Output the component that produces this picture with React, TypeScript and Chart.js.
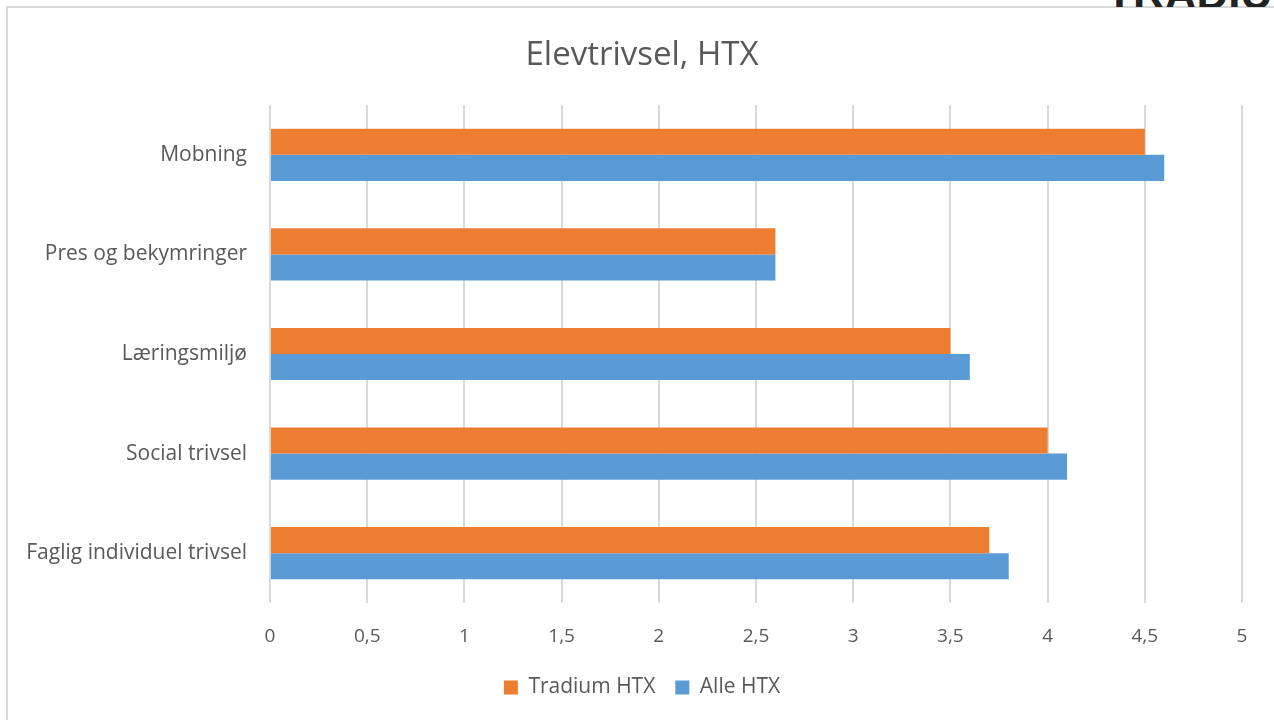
import React, { useEffect, useRef } from "react";
import { Chart, registerables } from "chart.js";

Chart.register(...registerables);

const categories = [
  "Mobning",
  "Pres og bekymringer",
  "Læringsmiljø",
  "Social trivsel",
  "Faglig individuel trivsel",
];
const tradiumHTX = [4.5, 2.6, 3.5, 4.0, 3.7];
const alleHTX = [4.6, 2.6, 3.6, 4.1, 3.8];
const seriesNames = ["Tradium HTX", "Alle HTX"];
const chartTitle = "Elevtrivsel, HTX";

const FONT = "'Open Sans', sans-serif";
const TEXT = "#595959";

// Widen the y-axis label clip area to the canvas edge so long labels are not cut
const unclipYLabels = {
  id: "unclipYLabels",
  afterLayout(chart: any) {
    const y = chart.scales.y;
    if (y) {
      y.width = y.right;
      y.left = 0;
    }
  },
};

export default function App() {
  const ref = useRef<HTMLCanvasElement | null>(null);

  useEffect(() => {
    if (!ref.current) return;
    const chart = new Chart(ref.current, {
      type: "bar",
      data: {
        labels: categories,
        datasets: [
          {
            label: seriesNames[0],
            data: tradiumHTX,
            backgroundColor: "#ED7D31",
            categoryPercentage: 0.5236,
            barPercentage: 1,
          },
          {
            label: seriesNames[1],
            data: alleHTX,
            backgroundColor: "#5B9BD5",
            categoryPercentage: 0.5236,
            barPercentage: 1,
          },
        ],
      },
      plugins: [unclipYLabels],
      options: {
        indexAxis: "y",
        animation: false,
        responsive: false,
        maintainAspectRatio: false,
        layout: { padding: { left: 42, right: 32, top: 0, bottom: 12 } },
        scales: {
          x: {
            min: 0,
            max: 5,
            ticks: {
              stepSize: 0.5,
              color: TEXT,
              font: { family: FONT, size: 19 },
              padding: 22,
              callback: (v: any) => String(v).replace(".", ","),
            },
            grid: { color: "#d9d9d9", lineWidth: 2, drawTicks: false },
            border: { display: false },
            afterFit: (s: any) => {
              s.height = 54;
            },
          },
          y: {
            ticks: {
              color: TEXT,
              font: { family: FONT, size: 21 },
              padding: 23,
            },
            grid: { display: false, drawTicks: false },
            border: { display: false },
            afterFit: (s: any) => {
              s.width = 228;
            },
          },
        },
        plugins: {
          title: {
            display: true,
            text: chartTitle,
            color: TEXT,
            font: { family: FONT, size: 33, weight: "normal" },
            padding: { top: 36, bottom: 29.4 },
          },
          legend: {
            position: "bottom",
            labels: {
              color: TEXT,
              font: { family: FONT, size: 21 },
              boxWidth: 14,
              boxHeight: 14,
              padding: 20,
            },
          },
          tooltip: { enabled: false },
        },
      },
    });
    return () => chart.destroy();
  }, []);

  return (
    <div style={{ position: "absolute", left: 0, top: 0, width: 1274, height: 720, background: "#fff", overflow: "hidden" }}>
      <div
        style={{
          position: "absolute",
          left: 6,
          top: 6,
          width: 1300,
          height: 800,
          borderLeft: "2px solid #d9d9d9",
          borderTop: "2px solid #d9d9d9",
        }}
      />
      <div
        style={{
          position: "absolute",
          left: 1100,
          top: 0,
          width: 174,
          height: 7,
          overflow: "hidden",
        }}
      >
        <div
          style={{
            position: "absolute",
            left: 6,
            bottom: 0,
            fontFamily: "'Liberation Sans', sans-serif",
            fontWeight: "bold",
            fontSize: 44,
            lineHeight: "44px",
            color: "#222",
            whiteSpace: "nowrap",
            transform: "translateY(9px)",
          }}
        >
          TRADIUM
        </div>
      </div>
      <canvas ref={ref} width={1274} height={720} style={{ position: "absolute", left: 0, top: 0 }} />
    </div>
  );
}
